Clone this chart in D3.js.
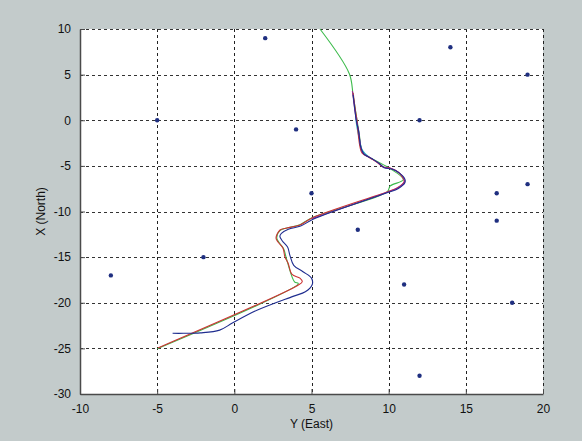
<!DOCTYPE html>
<html>
<head>
<meta charset="utf-8">
<script src="https://cdn.jsdelivr.net/npm/d3@7"></script>
<style>
  body { margin: 0; background: #c3cbcb; }
  svg { display: block; font-family: "Liberation Sans", Arial, sans-serif; }
</style>
</head>
<body>
<div id="chart"></div>
<script>
// landmarks (blue dots)
var landmarkEast  = [2, 14, 19, -5, 12, 4, 5, 8, 17, 19, 17, -2, -8, 11, 18, 12];
var landmarkNorth = [9, 8, 5, 0, 0, -1, -8, -12, -8, -7, -11, -15, -17, -18, -20, -28];

// true path (green)
var greenEast  = [5.55, 7.45, 7.7, 7.95, 8.1, 8.2, 8.35, 8.8, 10.0, 10.95, 10.1, 9.9, 5.0, 4.25, 3.4, 2.95, 2.75, 2.9, 3.2, 3.35, 3.45, 3.9, 4.15, -5.0];
var greenNorth = [10, 5.1, 2.7, 0, -1.6, -2.9, -3.6, -4.1, -5.2, -6.5, -7.2, -7.85, -10.7, -11.45, -11.8, -12.1, -12.9, -13.4, -14.1, -15.0, -15.6, -17.7, -17.9, -25.05];

// estimate (red)
var redEast  = [7.7, 7.85, 7.95, 8.0, 8.14, 8.27, 8.79, 9.31, 9.63, 10.09, 10.6, 10.93, 11.0, 10.54, 9.89, 5.03, 4.25, 3.41, 2.96, 2.7, 2.83, 3.15, 3.28, 3.48, 3.74, 4.25, 4.4, 4.1, -4.95];
var redNorth = [3.0, 1.0, 0, -1.05, -2.9, -3.58, -4.13, -4.68, -5.12, -5.23, -5.67, -6.33, -6.76, -7.42, -7.86, -10.71, -11.48, -11.81, -12.03, -12.9, -13.35, -14.0, -15.0, -15.65, -16.9, -17.3, -17.7, -18.1, -24.95];

// estimate (magenta)
var magentaEast  = [7.65, 7.8, 7.9, 8.05, 8.2, 8.35, 8.85, 9.35, 9.7, 10.15, 10.65, 10.98, 11.02, 10.55, 9.9, 5.05];
var magentaNorth = [3.2, 1.2, 0.1, -1.1, -2.95, -3.62, -4.15, -4.72, -5.15, -5.28, -5.72, -6.38, -6.8, -7.45, -7.9, -10.78];

// estimate (cyan)
var cyanEast  = [7.85, 7.95, 8.1, 8.3, 8.7];
var cyanNorth = [0.5, -0.8, -2.0, -3.3, -4.0];

// estimate (blue)
var blueEast  = [7.7, 7.9, 8.05, 8.2, 8.4, 8.9, 9.4, 9.7, 10.2, 10.7, 11.05, 11.05, 10.6, 9.9, 5.1, 4.3, 3.5, 3.05, 2.95, 3.1, 3.45, 3.6, 3.85, 4.45, 5.0, 5.05, 4.6, 3.8, 1.5, -0.1, -0.95, -2.2, -3.3, -4.0];
var blueNorth = [2.8, 0, -1.2, -3.0, -3.7, -4.2, -4.75, -5.2, -5.35, -5.8, -6.45, -6.85, -7.5, -7.95, -10.85, -11.6, -11.95, -12.4, -12.7, -13.2, -13.9, -14.8, -15.9, -16.6, -17.3, -18.0, -18.8, -19.3, -20.8, -22.2, -23.0, -23.3, -23.35, -23.35];

var xTicks = [-10, -5, 0, 5, 10, 15, 20];
var yTicks = [-30, -25, -20, -15, -10, -5, 0, 5, 10];

var width = 582, height = 441;
var mLeft = 80, mRight = 543, mTop = 29, mBottom = 394;

var svg = d3.select("#chart").append("svg")
    .attr("width", width)
    .attr("height", height);

svg.append("rect")
    .attr("width", width).attr("height", height)
    .attr("fill", "#c3cbcb");

var x = d3.scaleLinear().domain([-10, 20]).range([mLeft, mRight]);
var y = d3.scaleLinear().domain([-30, 10]).range([mBottom, mTop]);

// plot area
svg.append("rect")
    .attr("x", mLeft).attr("y", mTop)
    .attr("width", mRight - mLeft).attr("height", mBottom - mTop)
    .attr("fill", "#ffffff");

// grid lines (dotted)
svg.append("g").selectAll("line")
    .data(xTicks.filter(function(d) { return d !== -10; }))
    .enter().append("line")
    .attr("x1", function(d) { return Math.round(x(d)) + 0.5; })
    .attr("x2", function(d) { return Math.round(x(d)) + 0.5; })
    .attr("y1", mTop).attr("y2", mBottom)
    .attr("stroke", "#222")
    .attr("stroke-dasharray", "3,3");

svg.append("g").selectAll("line")
    .data(yTicks.filter(function(d) { return d !== -30; }))
    .enter().append("line")
    .attr("y1", function(d) { return Math.round(y(d)) + 0.5; })
    .attr("y2", function(d) { return Math.round(y(d)) + 0.5; })
    .attr("x1", mLeft).attr("x2", mRight)
    .attr("stroke", "#333")
    .attr("stroke-dasharray", "3,3");

// axes
var xAxis = d3.axisBottom(x).tickValues(xTicks).tickFormat(String)
    .tickSizeInner(-5).tickSizeOuter(0).tickPadding(10);
var yAxis = d3.axisLeft(y).tickValues(yTicks).tickFormat(String)
    .tickSizeInner(-5).tickSizeOuter(0).tickPadding(9);

var gx = svg.append("g").attr("transform", "translate(0," + mBottom + ")").call(xAxis);
var gy = svg.append("g").attr("transform", "translate(" + mLeft + ",0)").call(yAxis);

[gx, gy].forEach(function(g) {
    g.select(".domain").attr("stroke", "#4a4a4a").attr("stroke-width", 1.5);
    g.selectAll(".tick line").attr("stroke", "#4a4a4a");
    g.selectAll(".tick text")
        .attr("fill", "#111")
        .style("font-size", "12px")
        .style("font-family", "'Liberation Sans', Arial, sans-serif");
});

// axis labels
svg.append("text")
    .attr("x", (mLeft + mRight) / 2).attr("y", 428)
    .attr("text-anchor", "middle")
    .style("font-size", "12px")
    .attr("fill", "#111")
    .text("Y (East)");

svg.append("text")
    .attr("transform", "translate(45," + (mTop + mBottom) / 2 + ") rotate(-90)")
    .attr("text-anchor", "middle")
    .style("font-size", "12px")
    .attr("fill", "#111")
    .text("X (North)");

// trajectories
var line = d3.line()
    .x(function(d) { return x(d[0]); })
    .y(function(d) { return y(d[1]); })
    .curve(d3.curveCatmullRom.alpha(0.5));

var series = [
    { e: greenEast, n: greenNorth, color: "#3dbb4c" },
    { e: cyanEast, n: cyanNorth, color: "#22b4c4" },
    { e: redEast, n: redNorth, color: "#cc3333" },
    { e: magentaEast, n: magentaNorth, color: "#9a2a8e" },
    { e: blueEast, n: blueNorth, color: "#1f2d8f" }
];

svg.append("g").selectAll("path")
    .data(series)
    .enter().append("path")
    .attr("d", function(s) { return line(d3.zip(s.e, s.n)); })
    .attr("fill", "none")
    .attr("stroke", function(s) { return s.color; })
    .attr("stroke-width", 1.1);

// landmarks
svg.append("g").selectAll("circle")
    .data(d3.zip(landmarkEast, landmarkNorth))
    .enter().append("circle")
    .attr("cx", function(d) { return x(d[0]); })
    .attr("cy", function(d) { return y(d[1]); })
    .attr("r", 2.2)
    .attr("fill", "#1f2f80");
</script>
</body>
</html>
